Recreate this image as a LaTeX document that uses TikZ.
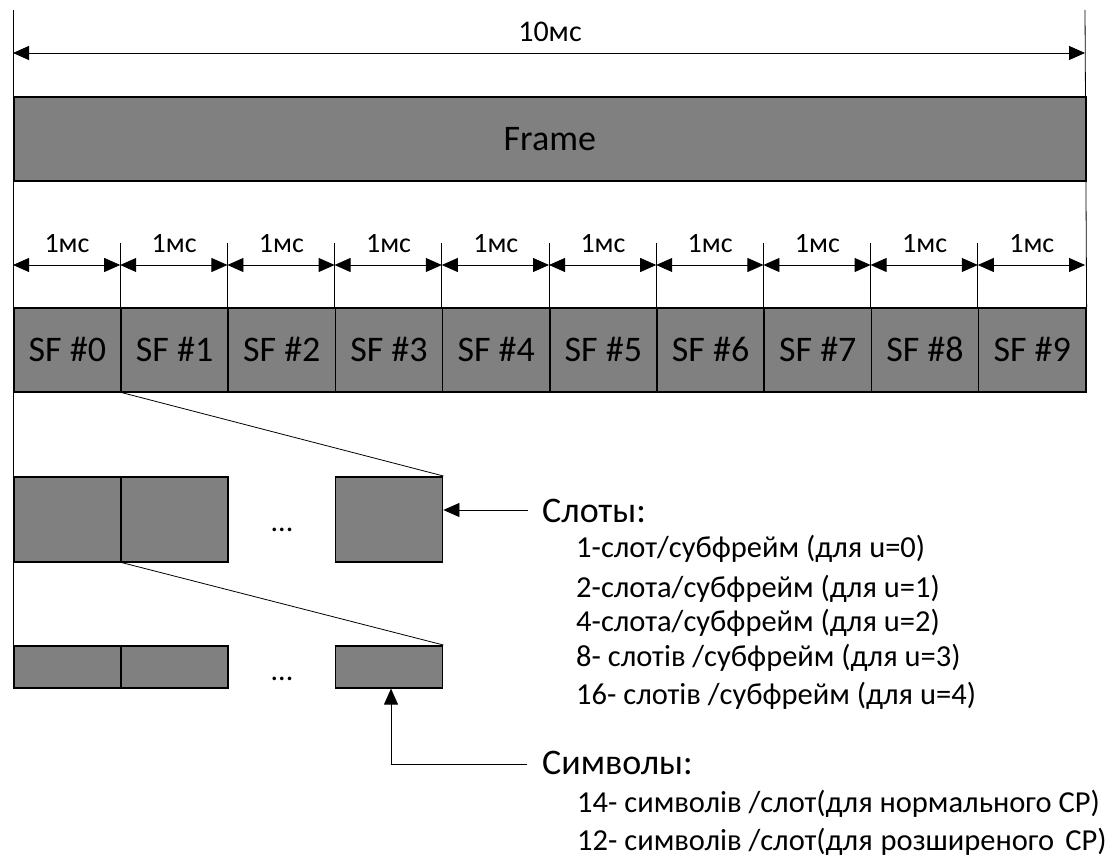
\documentclass[tikz,border=0pt]{standalone}
\usepackage{fontspec}
\setmainfont{Carlito}
\usetikzlibrary{arrows.meta}
\definecolor{boxgray}{RGB}{128,128,128}

\begin{document}
\begin{tikzpicture}[x=1pt,y=-1pt,
  block/.style={draw=black, line width=1.6pt, fill=boxgray, inner sep=0pt, anchor=north west},
  thin/.style={draw=black, line width=0.8pt},
  dim/.style={thin, {Triangle[length=16pt,width=14pt]}-{Triangle[length=16pt,width=14pt]}},
  pointer/.style={thin, -{Triangle[length=16pt,width=14pt]}},
  big/.style={font=\fontsize{36}{40}\selectfont},
  head/.style={font=\fontsize{36}{40}\selectfont, anchor=base west, inner sep=0pt},
  item/.style={font=\fontsize{30.5}{34}\selectfont, anchor=base west, inner sep=0pt},
  ms/.style={font=\fontsize{28}{30}\selectfont, anchor=base, inner sep=0pt}
]
\useasboundingbox (0,0) rectangle (1113,858);

% frame, 10 ms
\node[block, big, minimum width=1072pt, minimum height=84pt] (frame) at (13,96) {Frame};

% subframes, 1 ms each
\foreach \i in {0,...,9}{
  \node[block, big, minimum width=107.2pt, minimum height=84pt] (sf\i) at ({13+107.2*\i},307) {SF \#\i};
}

% outer guide lines
\coordinate (ltop) at (13,10);
\coordinate (rtop) at (1085,10);

% slots of one subframe
\node[block, minimum width=107.2pt, minimum height=85pt] (slot1) at (13,476) {};
\node[block, minimum width=107.2pt, minimum height=85pt] (slot2) at (120.2,476) {};
\node[block, minimum width=107.2pt, minimum height=85pt] (slot3) at (334.6,476) {};
\node[font=\fontsize{30}{32}\selectfont, anchor=base, inner sep=0pt] (sdots) at (282,531) {...};

% symbols of one slot
\node[block, minimum width=107.2pt, minimum height=42pt] (sym1) at (13,645) {};
\node[block, minimum width=107.2pt, minimum height=42pt] (sym2) at (120.2,645) {};
\node[block, minimum width=107.2pt, minimum height=42pt] (sym3) at (334.6,645) {};
\node[font=\fontsize{30}{32}\selectfont, anchor=base, inner sep=0pt] (ydots) at (282,680) {...};

\draw[thin] (ltop) -- (sym1.north west);
\draw[thin] (rtop) -- (sf9.north east);

% 10 ms dimension
\coordinate (fa) at (13,53);
\coordinate (fb) at (1085,53);
\draw[dim] (fa) -- (fb);
\node[ms, font=\fontsize{30}{32}\selectfont] (tenms) at (550,42) {10мс};

% 1 ms dimensions
\foreach \i in {0,...,10}{
  \coordinate (d\i) at ({13+107.2*\i},265);
}
\foreach \i in {1,...,9}{
  \coordinate (t\i) at ({13+107.2*\i},243);
  \draw[thin] (t\i) -- (sf\i.north west);
}
\foreach \i [evaluate=\i as \j using int(\i+1)] in {0,...,9}{
  \draw[dim] (d\i) -- (d\j);
  \node[ms] (ms\i) at ({67+107.2*\i},253) {1мс};
}

% zoom lines
\draw[thin] (sf0.south east) -- (slot3.north east);
\draw[thin] (slot1.south east) -- (sym3.north east);

% slots legend
\coordinate (sarr) at (528,510);
\draw[pointer] (sarr) -- (sarr -| slot3.east);
\node[head] (slots) at (542,522) {Слоты:};
\node[item] (s0) at (576,557) {1-слот/субфрейм (для u=0)};
\node[item] (s1) at (576,597) {2-слота/субфрейм (для u=1)};
\node[item] (s2) at (576,631) {4-слота/субфрейм (для u=2)};
\node[item] (s3) at (576,666) {8- слотів /субфрейм (для u=3)};
\node[item] (s4) at (576,704) {16- слотів /субфрейм (для u=4)};

% symbols legend
\coordinate (carr) at (527,764);
\coordinate (cbend) at (391,764);
\draw[pointer] (carr) -- (cbend) -- (cbend |- sym3.south);
\node[head] (syms) at (542,774) {Символы:};
\node[item] (y0) at (577,812) {14- символів /слот(для нормального CP)};
\node[item] (y1) at (577,850) {12- символів /слот(для\hspace{8pt}розширеного\hspace{11pt}CP)};
\end{tikzpicture}
\end{document}
